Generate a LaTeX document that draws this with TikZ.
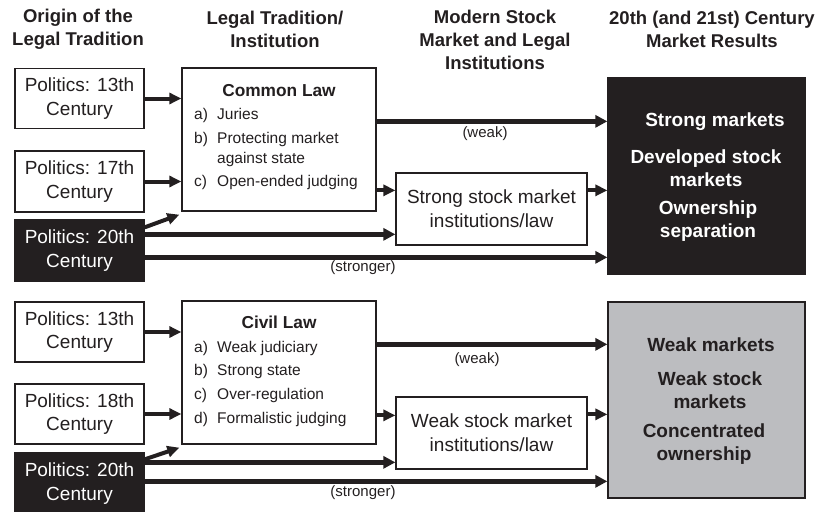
\documentclass[tikz,border=0pt]{standalone}
\usepackage{fontspec}
\setmainfont{Liberation Sans}
\usetikzlibrary{arrows.meta,calc}
\definecolor{ink}{HTML}{231F20}
\definecolor{boxgray}{HTML}{BCBDC0}
\begin{document}
\begin{tikzpicture}[x=1pt,y=-1pt,
  hdr/.style={font=\fontsize{18.5}{23}\selectfont\bfseries, align=center, text=ink, inner sep=0pt},
  pol/.style={draw=ink, line width=1.3pt, fill=white, minimum width=129pt, minimum height=60pt,
    inner sep=0pt, align=center, font=\fontsize{19}{23.5}\selectfont, text=ink},
  poldark/.style={pol, fill=ink, text=white},
  lawbox/.style={draw=ink, line width=1.3pt, fill=white, minimum width=194pt, minimum height=143pt, inner sep=0pt},
  stockbox/.style={draw=ink, line width=1.3pt, fill=white, minimum width=191pt, minimum height=72pt,
    inner sep=0pt, align=center, font=\fontsize{19}{24}\selectfont, text=ink},
  resbox/.style={draw=ink, line width=1.3pt, minimum width=197pt, minimum height=196pt, inner sep=0pt},
  lawtitle/.style={font=\fontsize{17.3}{20}\selectfont\bfseries, text=ink, inner sep=0pt, anchor=base},
  lawitem/.style={font=\fontsize{15.5}{20}\selectfont, text=ink, inner sep=0pt, anchor=base west},
  restext/.style={font=\fontsize{19}{23}\selectfont\bfseries, align=center, inner sep=0pt},
  lbl/.style={font=\fontsize{15}{18}\selectfont, text=ink, inner sep=0pt},
  arr/.style={draw=ink, line width=4pt, -{Triangle[length=12pt,width=11pt]}},
  arrthick/.style={draw=ink, line width=5pt, -{Triangle[length=12pt,width=12pt]}}
]
\useasboundingbox (0,0) rectangle (829,511);

% headers
\node[hdr] (h1) at (78,29) {Origin of the\\Legal Tradition};
\node[hdr] (h2) at (275,29) {Legal Tradition/\\Institution};
\node[hdr] (h3) at (495,40) {Modern Stock\\Market and Legal\\Institutions};
\node[hdr] (h4) at (712,29) {20th (and 21st) Century\\Market Results};

% ---------- top group ----------
\node[pol] (t13) at (79.5,98.5) {Politics: 13th\\Century};
\node[pol, minimum height=61pt] (t17) at (79.5,181.5) {Politics: 17th\\Century};
\node[poldark, minimum height=61pt] (t20) at (79.5,250.5) {Politics: 20th\\Century};

\node[lawbox] (tcl) at (279,139.5) {};
\node[lawtitle] (tclt) at (279,96.5) {Common Law};
\node[lawitem] (tcla) at (194,119) {a)};
\node[lawitem] (tclat) at (217,119) {Juries};
\node[lawitem] (tclb) at (194,143) {b)};
\node[lawitem] (tclbt) at (217,143) {Protecting market};
\node[lawitem] (tclbu) at (217,163) {against state};
\node[lawitem] (tclc) at (194,186) {c)};
\node[lawitem] (tclct) at (217,186) {Open-ended judging};

\node[stockbox] (tss) at (491.5,209) {Strong stock market\\institutions/law};

\node[resbox, fill=ink] (tres) at (706.5,176) {};
\node[restext, text=white] (tr1) at (715,122) {Strong markets};
\node[restext, text=white] (tr2) at (706,168.5) {Developed stock\\markets};
\node[restext, text=white] (tr3) at (708,221) {Ownership\\separation};

% top arrows
\draw[arr] (t13.east) -- (t13.east -| tcl.west);
\draw[arr] (t17.east) -- (t17.east -| tcl.west);
\draw[arr] ($(t20.north east)+(0,8)$) -- ($(tcl.south west)+(-2,3)$);
\coordinate (t20a) at ($(t20.north east)+(0,15)$);
\draw[arrthick] (t20a) -- (t20a -| tss.west);
\coordinate (t20b) at ($(t20.north east)+(0,38)$);
\draw[arrthick] (t20b) -- (t20b -| tres.west);
\coordinate (tcla1) at ($(tcl.north east)+(0,54)$);
\draw[arrthick, line width=5.5pt] (tcla1) -- (tcla1 -| tres.west);
\coordinate (tcla2) at ($(tcl.north east)+(0,123)$);
\draw[arr] (tcla2) -- (tcla2 -| tss.west);
\coordinate (tssa) at ($(tss.north east)+(0,18)$);
\draw[arr] (tssa) -- (tssa -| tres.west);
\node[lbl] (tweak) at (485,134) {(weak)};
\node[lbl] (tstr) at (363,268) {(stronger)};

% ---------- bottom group ----------
\node[pol] (b13) at (79.5,332) {Politics: 13th\\Century};
\node[pol] (b18) at (79.5,414) {Politics: 18th\\Century};
\node[poldark, minimum height=61pt] (b20) at (79.5,483.5) {Politics: 20th\\Century};

\node[lawbox] (bcl) at (279,372.5) {};
\node[lawtitle] (bclt) at (279,328) {Civil Law};
\node[lawitem] (bcla) at (194,352) {a)};
\node[lawitem] (bclat) at (217,352) {Weak judiciary};
\node[lawitem] (bclb) at (194,375.5) {b)};
\node[lawitem] (bclbt) at (217,375.5) {Strong state};
\node[lawitem] (bclc) at (194,399) {c)};
\node[lawitem] (bclct) at (217,399) {Over-regulation};
\node[lawitem] (bcld) at (194,423) {d)};
\node[lawitem] (bcldt) at (217,423) {Formalistic judging};

\node[stockbox] (bws) at (491.5,433) {Weak stock market\\institutions/law};

\node[resbox, fill=boxgray] (bres) at (706.5,400) {};
\node[restext, text=ink] (br1) at (711,345) {Weak markets};
\node[restext, text=ink] (br2) at (710,390.5) {Weak stock\\markets};
\node[restext, text=ink] (br3) at (704,444) {Concentrated\\ownership};

% bottom arrows
\draw[arr] (b13.east) -- (b13.east -| bcl.west);
\draw[arr] (b18.east) -- (b18.east -| bcl.west);
\draw[arr] ($(b20.north east)+(0,7)$) -- ($(bcl.south west)+(-2,3)$);
\coordinate (b20a) at ($(b20.north east)+(0,10)$);
\draw[arrthick] (b20a) -- (b20a -| bws.west);
\coordinate (b20b) at ($(b20.north east)+(0,29)$);
\draw[arrthick] (b20b) -- (b20b -| bres.west);
\coordinate (bcla1) at ($(bcl.north east)+(0,44)$);
\draw[arrthick, line width=5.5pt] (bcla1) -- (bcla1 -| bres.west);
\coordinate (bcla2) at ($(bcl.north east)+(0,115)$);
\draw[arr] (bcla2) -- (bcla2 -| bws.west);
\coordinate (bwsa) at ($(bws.north east)+(0,18)$);
\draw[arr] (bwsa) -- (bwsa -| bres.west);
\node[lbl] (bweak) at (477,360) {(weak)};
\node[lbl] (bstr) at (363,493) {(stronger)};
\end{tikzpicture}
\end{document}
